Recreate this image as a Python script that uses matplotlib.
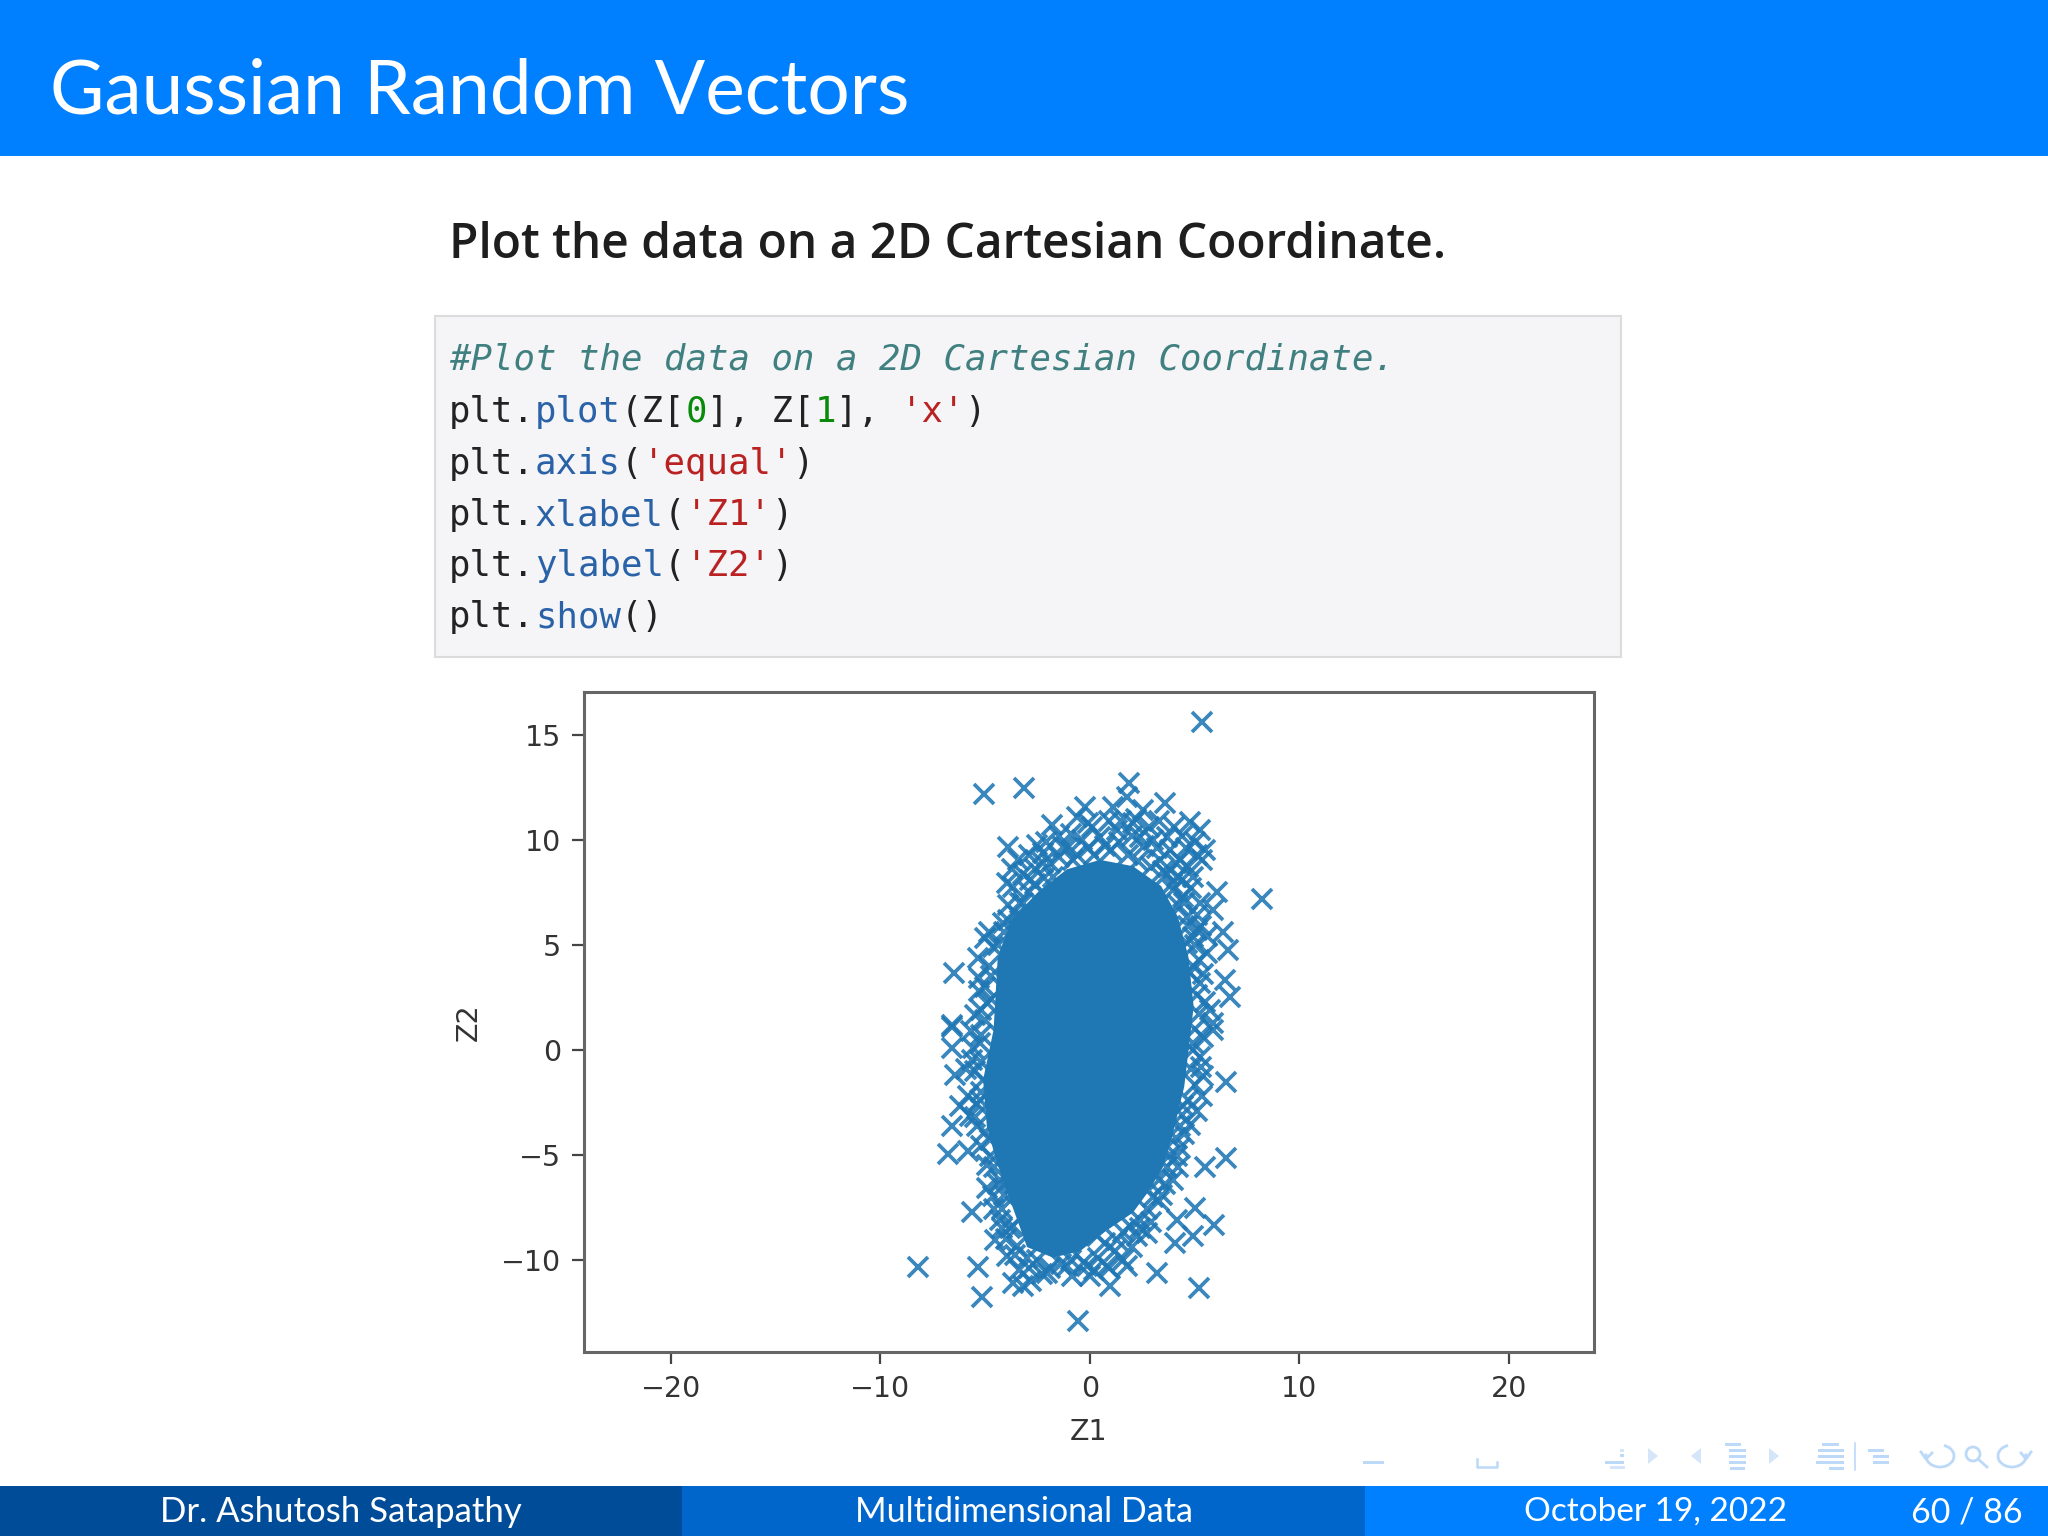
import matplotlib
matplotlib.use('Agg')
import matplotlib.pyplot as plt
from matplotlib.patches import Rectangle, Circle, Arc, Polygon

# data
x_ticks = [-20, -10, 0, 10, 20]
y_ticks = [-10, -5, 0, 5, 10, 15]

# outline of the solid centre of the cloud
core_z1 = [-4.6, -4.4, -3.75, -2.45, -1.1, 0.48, 2.05, 3.4, 4.2, 4.7, 4.95, 4.5, 4.0,
           3.5, 2.75, 2.05, 0.81, -0.48, -1.77, -3.0, -3.82, -4.44, -4.92, -5.1]
core_z2 = [0.95, 4.43, 6.19, 7.55, 8.6, 9.05, 8.75, 7.8, 6.33, 4.43, 2.05, -1.76, -3.81,
           -5.57, -6.81, -7.76, -8.6, -9.6, -9.9, -9.4, -7.14, -5.38, -3.67, -1.43]

# single crosses around the centre
z1_upper = [5.33, -5.05, -3.15, 8.2, 1.88, 1.11, 1.75, 2.55, 3.58, 4.77, 5.25, 5.49, 5.33, -0.24, -0.64,
            -1.83, -0.08, -2.55, -3.9, -3.42, -3.66, -3.98, -2.23, -1.27, -0.8, -1.75, 0.48, 1.27, 2.07,
            3.02, 2.39, 3.66, 4.3, 3.34, 4.93, 6.05, 5.25, 5.89, 4.61, 6.36, 4.93, 6.6, 5.57, 4.77, 6.44,
            6.68, 5.73, 5.89, -5.01, -5.33, -4.62, -6.48, -5.28, -4.93, -5.49, -6.6, -2.23, -2.87, 3.98,
            4.45, 4.14, -3.34, -4.14, 4.61, 5.25, 5.09]
z2_upper = [15.6, 12.2, 12.47, 7.2, 12.73, 11.58, 12.06, 11.43, 11.74, 10.87, 10.47, 9.52, 9.05, 11.58, 11.11,
            10.71, 10.79, 9.76, 9.68, 9.04, 7.78, 7.93, 9.36, 9.68, 9.04, 8.25, 10.16, 10.47, 10.79,
            10.0, 10.16, 10.16, 9.04, 9.04, 8.25, 7.54, 6.98, 6.66, 6.35, 5.63, 5.39, 4.76, 4.6, 3.65, 3.33,
            2.54, 1.9, 1.27, 5.31, 4.36, 4.92, 3.65, 2.78, 2.22, 1.67, 1.19, 8.89, 8.09, 7.62,
            7.3, 8.25, 6.98, 6.03, 5.08, 3.17, 5.71]
z1_lower = [-6.6, -6.6, -6.44, -5.25, -5.65, -5.09, -6.2, -6.6, -5.73, -5.25, -5.41, -6.76, -5.81, -4.77, -4.77,
            -4.3, -4.62, -5.65, -3.74, -4.3, -4.54, -3.66, -3.5, -3.98, -5.33, -8.19, -5.17, -3.66, -2.79,
            -3.18, -2.07, -0.88, 0.0, 0.95, 0.8, 1.75, 0.32, 1.27, 2.23, 2.7, -0.56, 3.18, 5.2, 4.06, 4.93,
            4.14, 5.01, 5.92, 3.42, 3.98, 5.49, 6.49, 4.14, 3.34, 4.77, 4.3, 5.33, 6.49, 5.41, 5.25, 4.93,
            5.89, 4.45, 2.39, -1.11, -0.16, -2.55]
z2_lower = [1.11, 0.08, -1.19, 0.32, -0.47, -1.43, -2.7, -3.65, -3.17, -2.38, -3.65, -4.97, -4.84, -4.28, -5.08,
            -6.19, -6.98, -7.74, -6.82, -8.09, -9.05, -8.41, -9.36, -9.84, -10.35, -10.35, -11.78, -11.11, -11.03,
            -11.27, -10.63, -10.79, -10.79, -11.27, -10.32, -10.32, -8.89, -9.05, -8.89, -8.73, -12.94, -10.63,
            -11.35, -9.2, -8.89, -8.09, -7.54, -8.33, -6.9, -6.19, -5.59, -5.16, -5.08, -4.68, -3.57, -3.65,
            -2.22, -1.54, -1.27, -0.32, 0.32, 0.95, -2.7, -8.09, -10.32, -10.32, -10.0]

# crosses packed along the rim of the centre
z1_rim = [-3.2, -2.9, -2.6, -2.1, -1.9, -1.5, -1.5, -1.1, -0.9, -0.6, -0.4, -0.1, 0.1, 0.2, 0.7, 0.9, 1.0, 1.4, 1.5,
          1.8, 2.0, 2.2, 2.3, 2.6, 2.8, 2.9, 3.2, 3.3, 3.5, 3.8, 4.0, 4.1, 4.4, 4.6, 4.7, 5.0, 5.1, 4.4, 3.9, 3.7,
          4.8, 4.5, 4.2, 5.1, 4.7, 5.3, 5.0, 5.6, 5.2, 4.9, 5.4, 5.1, 5.5, 5.2, 5.0, 5.4, 4.9, 5.3, 4.8, 5.0,
          4.7, 5.1, 4.4, 4.5, 4.1, 4.3, 3.8, 3.7, 4.2, 3.3, 3.6, 3.0, 3.3, 2.7, 2.9, 2.4, 1.9, 1.6, 2.0, 1.2,
          0.7, 0.4, 1.6, 0.9, 0.2, -0.3, -0.9, -1.4, -1.9, -2.3, -2.9, -3.4, -3.0, -3.6, -4.0, -4.2, -3.8, -4.6,
          -4.2, -4.1, -4.9, -4.4, -4.9, -4.6, -5.2, -5.0, -5.5, -5.4, -5.8, -5.2, -5.5, -5.9, -5.2, -5.6, -5.2,
          -5.7, -5.0, -5.2, -4.7, -5.0, -4.7, -5.3, -4.8, -4.8, -4.4, -4.1, -3.9, -3.9, -3.5, -3.2, -2.9, -3.7,
          -2.6, -2.2]
z2_rim = [8.4, 9.3, 8.6, 9.9, 8.9, 9.2, 10.2, 9.6, 10.3, 9.3, 10.0, 9.6, 10.6, 9.3, 9.7, 10.9, 9.5, 9.9, 10.9,
          9.3, 10.2, 11.0, 9.0, 9.7, 10.6, 8.7, 9.6, 10.9, 8.5, 9.5, 10.6, 8.9, 10.2, 9.6, 8.7, 9.9, 9.3, 8.1, 7.9, 8.4,
          7.7, 7.0, 6.9, 6.4, 5.9, 5.9, 5.0, 5.4, 4.3, 4.0, 3.6, 2.6, 2.3, 1.7, 1.0, 0.6, 0.0, -0.8, -0.9, -1.7,
          -2.4, -2.9, -3.1, -4.0, -4.2, -4.7, -5.0, -5.6, -5.6, -6.2, -6.4, -7.0, -7.2, -7.6, -8.2, -8.5, -8.4, -8.7,
          -9.4, -9.6, -9.2, -9.9, -10.0, -10.4, -10.5, -10.1, -10.0, -10.2, -10.4, -10.7, -10.4, -10.5, -9.9, -9.8,
          -9.0, -8.5, -8.5, -7.6, -7.6, -6.9, -6.6, -6.4, -5.5, -5.6, -4.6, -3.9, -3.2, -2.6, -2.2, -2.0, -1.0, -0.9,
          -0.6, 0.1, 0.7, 0.9, 1.4, 1.9, 2.4, 3.0, 3.5, 3.4, 4.0, 5.6, 5.0, 5.6, 6.2, 6.9, 6.4, 7.0, 7.5, 8.6,
          7.9, 8.2]

code_lines = [
    [("#Plot the data on a 2D Cartesian Coordinate.", "#408080", "italic")],
    [("plt.", "#222222", "normal"), ("plot", "#2a62a8", "normal"), ("(Z[", "#222222", "normal"), ("0", "#0a8a0a", "normal"),
     ("], Z[", "#222222", "normal"), ("1", "#0a8a0a", "normal"), ("], ", "#222222", "normal"), ("'x'", "#ba2121", "normal"),
     (")", "#222222", "normal")],
    [("plt.", "#222222", "normal"), ("axis", "#2a62a8", "normal"), ("(", "#222222", "normal"), ("'equal'", "#ba2121", "normal"),
     (")", "#222222", "normal")],
    [("plt.", "#222222", "normal"), ("xlabel", "#2a62a8", "normal"), ("(", "#222222", "normal"), ("'Z1'", "#ba2121", "normal"),
     (")", "#222222", "normal")],
    [("plt.", "#222222", "normal"), ("ylabel", "#2a62a8", "normal"), ("(", "#222222", "normal"), ("'Z2'", "#ba2121", "normal"),
     (")", "#222222", "normal")],
    [("plt.", "#222222", "normal"), ("show", "#2a62a8", "normal"), ("()", "#222222", "normal")],
]
code_baselines = [370, 422, 474, 525, 576, 627]

W, H = 2048, 1536
fig = plt.figure(figsize=(W / 100, H / 100), dpi=100, facecolor='white')

# slide background, in pixels
bg = fig.add_axes([0, 0, 1, 1])
bg.set_xlim(0, W)
bg.set_ylim(H, 0)
bg.axis('off')

bar = '#0080ff'
bg.add_patch(Rectangle((0, 0), W, 156, color=bar, lw=0))
bg.text(50, 92, "Gaussian Random Vectors", color='white', fontsize=53.8, family='Lato', va='center', ha='left')
bg.text(449, 246, "Plot the data on a 2D Cartesian Coordinate.", color='#1e1e1e', fontsize=34.5, family='Open Sans',
        weight=600, va='center', ha='left')

bg.add_patch(Rectangle((435, 316), 1186, 341, facecolor='#f5f5f7', edgecolor='#dcdcdc', lw=1.5))
for line, base in zip(code_lines, code_baselines):
    pos = 0
    for txt, col, sty in line:
        bg.text(449 + pos * 21.5, base, txt, color=col, style=sty, fontsize=25.7, family='DejaVu Sans Mono',
                va='baseline', ha='left')
        pos += len(txt)

# footer
bg.add_patch(Rectangle((0, 1486), 682, 50, color='#004c99', lw=0))
bg.add_patch(Rectangle((682, 1486), 683, 50, color='#0066cc', lw=0))
bg.add_patch(Rectangle((1365, 1486), 683, 50, color=bar, lw=0))
for cx, txt, fs in [(341, "Dr. Ashutosh Satapathy", 25), (1024, "Multidimensional Data", 24.5), (1656, "October 19, 2022", 24),
                    (1967, "60 / 86", 24.5)]:
    bg.text(cx, 1512, txt, color='white', fontsize=fs, family='Lato', va='center', ha='center')

# navigation symbols
nav = '#bcd9f8'
pale = '#d5e6fb'
bg.add_patch(Rectangle((1363, 1461), 21, 2.5, color=nav, lw=0))
bg.plot([1477, 1477, 1497, 1497], [1459, 1467, 1467, 1462], color=nav, lw=1.8)
bg.add_patch(Rectangle((1605, 1461), 19, 2.5, color=nav, lw=0))
bg.add_patch(Rectangle((1610, 1466), 15, 3, color=pale, lw=0))
bg.add_patch(Rectangle((1620, 1449), 4, 2.5, color=pale, lw=0))
bg.add_patch(Rectangle((1620, 1454), 4, 2.5, color=nav, lw=0))
for bx, by, bw in [(1725, 1443, 16), (1729, 1449, 17), (1729, 1455, 17), (1729, 1461, 17), (1730, 1467, 15),
                   (1822, 1443, 17), (1818, 1449, 26), (1818, 1455, 26), (1816, 1461, 28), (1829, 1467, 15),
                   (1868, 1449, 16), (1873, 1455, 16), (1873, 1461, 16)]:
    bg.add_patch(Rectangle((bx, by), bw, 3, color=nav, lw=0))
bg.plot([1855, 1855], [1443, 1470], color=nav, lw=1.2)
for px, py, d in [(1648, 1456, 1), (1701, 1456, -1), (1769, 1456, 1)]:
    bg.add_patch(Polygon([(px, py - 8), (px, py + 8), (px + d * 10, py)], color=pale, lw=0))
bg.add_patch(Arc((1940, 1456), 28, 22, theta1=-70, theta2=190, color=nav, lw=2))
bg.plot([1921, 1926, 1932], [1452, 1459, 1453], color=nav, lw=2)
bg.add_patch(Circle((1973, 1454), 7, fill=False, ec=nav, lw=2))
bg.plot([1978, 1987], [1459, 1467], color=nav, lw=2)
bg.add_patch(Arc((2012, 1456), 28, 22, theta1=-10, theta2=250, color=nav, lw=2))
bg.plot([2021, 2026, 2031], [1453, 1459, 1452], color=nav, lw=2)

# the plot itself
ax = fig.add_axes([584 / W, 1 - 1352 / H, (1594 - 584) / W, (1352 - 692) / H])
ax.set_xlim(-24.15, 24.06)
ax.set_ylim(-14.4, 17.05)
ax.fill(core_z1, core_z2, color='#1f77b4', lw=0)
ax.plot(z1_upper + z1_lower + z1_rim, z2_upper + z2_lower + z2_rim, 'x', color='#1f77b4', ms=14, mew=2.7, alpha=0.88)
ax.set_xticks(x_ticks)
ax.set_yticks(y_ticks)
ax.tick_params(length=8.5, width=1.6, labelsize=20.5, labelcolor='#333333', color='#444444', pad=8)
ax.set_xlabel("Z1", fontsize=20.5, color='#333333', labelpad=11)
ax.set_ylabel("Z2", fontsize=20.5, color='#333333', labelpad=13)
for s in ax.spines.values():
    s.set_color('#666666')
    s.set_linewidth(2.2)

fig.savefig('out.png', dpi=100)
